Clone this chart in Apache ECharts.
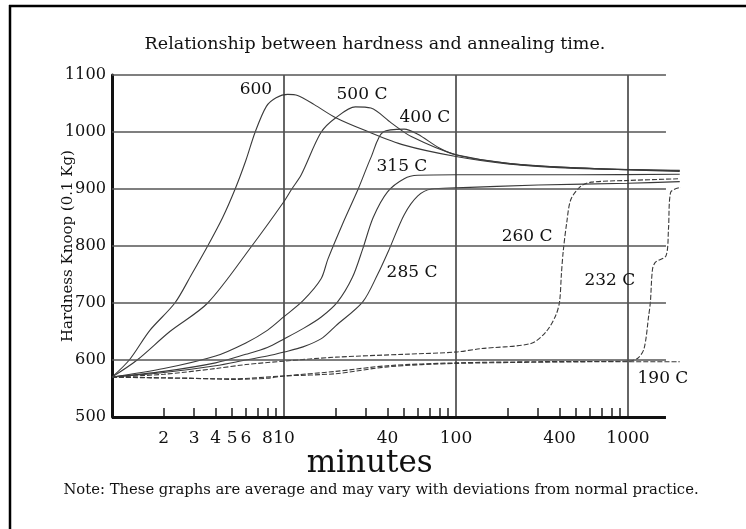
<!DOCTYPE html>
<html>
<head>
<meta charset="utf-8">
<script src="https://cdn.jsdelivr.net/npm/echarts@6/dist/echarts.min.js"></script>
<style>html,body{margin:0;padding:0;background:#fff;}#c{width:746px;height:529px;}</style>
</head>
<body>
<div id="c"></div>
<script>
// ---- data (minutes, Knoop hardness) ----
const c600 = [[1,570],[1.26,600],[1.66,652],[2.32,700],[2.9,750],[3.6,800],[4.4,850],[5.2,900],[6,950],[6.8,1000],[7.9,1045],[9,1060],[10.5,1066],[12,1064],[15,1048],[20,1025],[30,1002],[50,977],[100,957],[200,944],[500,936],[2000,933]];
const c500 = [[1,570],[1.4,600],[2.17,650],[3.6,700],[6.5,800],[10,878],[11.1,900],[12.6,925],[16.4,999],[20,1025],[26,1044],[32,1042],[42,1016],[55,992],[100,960],[200,945],[500,937],[2000,932]];
const c400 = [[1,570],[2,585],[4,607],[6,630],[8,652],[10,676],[12.9,704],[16.4,742],[18,777],[22,840],[27,900],[32,955],[37.7,1000],[50,1005],[60,996],[80,972],[100,960],[200,945],[500,937],[2000,931]];
const c315 = [[1,570],[2,580],[4,595],[6,610],[8,622],[10,637],[12.9,655],[16.4,675],[20.5,702],[25,745],[28.7,795],[33,850],[40,895],[50,918],[60,924],[100,925],[500,925],[2000,926]];
const c285 = [[1,570],[2,578],[4,590],[6,600],[8,607],[10,614],[12.9,623],[16.4,637],[20,660],[28.7,702],[35,750],[41,795],[50,855],[60,888],[72,900],[100,902],[300,907],[1000,910],[2000,913]];
const c260 = [[1,570],[2,575],[4,585],[6,592],[10,598],[20,605],[50,610],[100,614],[140,620],[273,629],[335,650],[380,678],[400,702],[410,750],[420,790],[440,840],[466,882],[533,905],[610,912],[1000,915],[2000,918]];
const c232 = [[1,570],[3,568],[5,566],[8,568],[10,572],[20,580],[40,590],[100,595],[300,597],[1000,598],[1140,603],[1240,620],[1320,678],[1350,702],[1390,760],[1450,772],[1665,783],[1720,830],[1770,894],[2030,903]];
const c190 = [[1,570],[5,567],[10,572],[20,576],[40,588],[100,594],[1000,597],[2000,597]];
const seriesNames = ['600','500 C','400 C','315 C','285 C','260 C','232 C','190 C'];
const labelPos = [[6.87,1074],[28.4,1065],[66,1025],[48.5,939],[55.5,754],[259,816],[785,740],[1597,568]];
// axis ticks
const yTicks = [500,600,700,800,900,1000,1100];
const xMinorTicks = [2,3,4,5,6,7,8,9,20,30,40,50,60,70,80,90,200,300,400,500,600,700,800,900];
const xTickLabels = [2,3,4,5,6,8,10,40,100,400,1000];
const xGridLines = [10,100,1000];
const xFrameEnd = 1663;   // where the printed grid ends (curves run on a little)

const SERIF = 'DejaVu Serif';
const curves = [c600,c500,c400,c315,c285,c260,c232,c190];
const dashed = [false,false,false,false,false,true,true,true];

const series = curves.map((d,i)=>({
  name: seriesNames[i],
  type: 'line',
  data: d,
  smooth: 0.3,
  symbol: 'none',
  z: 3,
  lineStyle: {color:'#3a3a3a', width:1.1, type: dashed[i] ? [5,2] : 'solid'},
  markPoint: {
    symbol: 'circle', symbolSize: 0, silent: true,
    label: {show:true, position:'inside', formatter: seriesNames[i], color:'#111', fontFamily:SERIF, fontSize:17},
    data: [{coord: labelPos[i]}]
  }
}));
// grid lines drawn through the axes
series.push({
  name:'grid', type:'line', data:[], z:2,
  markLine: {
    silent:true, symbol:'none', label:{show:false}, animation:false,
    data: [
      ...xGridLines.map(v=>({xAxis:v, lineStyle:{color:'#333', width:1.5, type:'solid'}})),
      ...yTicks.map(v=>[
        {coord:[1,v], lineStyle:{color: v===500 ? '#111' : '#555', width: v===500 ? 3 : 1.5, type:'solid'}},
        {coord:[xFrameEnd,v]}
      ])
    ]
  }
});

const chart = echarts.init(document.getElementById('c'));
chart.setOption({
  animation:false,
  backgroundColor:'#fff',
  title: {text:'Relationship between hardness and annealing time.', left:370, textAlign:'center', top:30,
    textStyle:{fontFamily:SERIF, fontSize:17.5, fontWeight:'normal', color:'#111'}},
  grid: {left:112, top:75, right:62.6, bottom:112},
  xAxis: {
    type:'log', logBase:10, min:1, max:2100,
    axisLine:{show:false},
    axisTick:{show:true, inside:true, length:9, customValues:xMinorTicks, lineStyle:{color:'#222', width:1.5}},
    axisLabel:{customValues:xTickLabels, margin:13, fontFamily:SERIF, fontSize:17, color:'#111', formatter:v=>String(v)},
    splitLine:{show:false},
    name:'minutes', nameLocation:'middle', nameGap:31, nameMoveOverlap:false,
    nameTextStyle:{fontFamily:SERIF, fontSize:31, color:'#111', padding:[0,56,0,0]}
  },
  yAxis: {
    type:'value', min:500, max:1100, interval:100,
    axisLine:{show:true, lineStyle:{color:'#111', width:3}},
    axisTick:{show:false},
    axisLabel:{margin:6, fontFamily:SERIF, fontSize:16.2, color:'#111', formatter:v=>String(v)},
    splitLine:{show:false},
    name:'Hardness Knoop (0.1 Kg)', nameLocation:'middle', nameGap:36, nameRotate:90, nameMoveOverlap:false,
    nameTextStyle:{fontFamily:SERIF, fontSize:15, color:'#111'}
  },
  graphic: [
    {type:'line', shape:{x1:10, y1:5, x2:10, y2:529}, style:{stroke:'#000', lineWidth:2.5}},
    {type:'line', shape:{x1:9, y1:6, x2:746, y2:6}, style:{stroke:'#000', lineWidth:2.5}},
    {type:'text', x:381, y:490, style:{text:'Note: These graphs are average and may vary with deviations from normal practice.',
      fontFamily:SERIF, fontSize:14.8, fill:'#111', textAlign:'center', textVerticalAlign:'middle'}}
  ],
  series: series
});
</script>
</body>
</html>
